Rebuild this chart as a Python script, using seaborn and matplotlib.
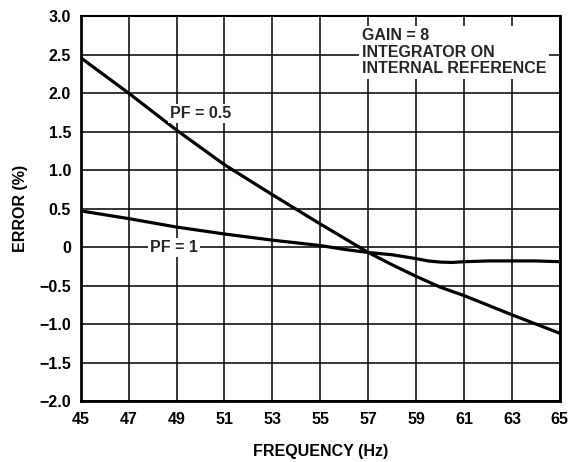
import matplotlib
matplotlib.use("Agg")
import matplotlib.pyplot as plt
import seaborn as sns
import pandas as pd

freq_05 = [45, 47, 49, 51, 53, 55, 57, 58, 59, 60, 61, 63, 65]
err_05 = [2.46, 2.0, 1.52, 1.07, 0.68, 0.3, -0.07, -0.23, -0.38, -0.52, -0.63, -0.88, -1.12]
freq_1 = [45, 47, 49, 51, 53, 55, 56, 57, 58, 59, 59.5, 60, 60.5, 61, 62, 63, 64, 65]
err_1 = [0.47, 0.37, 0.26, 0.17, 0.09, 0.02, -0.03, -0.07, -0.1, -0.15, -0.18, -0.195, -0.2, -0.19, -0.18, -0.18, -0.18, -0.19]

x_ticks = [45, 47, 49, 51, 53, 55, 57, 59, 61, 63, 65]
y_ticks = [-2.0, -1.5, -1.0, -0.5, 0, 0.5, 1.0, 1.5, 2.0, 2.5, 3.0]
y_labels = ["\u22122.0", "\u22121.5", "\u22121.0", "\u22120.5", "0", "0.5", "1.0", "1.5", "2.0", "2.5", "3.0"]

sns.set_theme(style="white")
plt.rcParams['font.family'] = ['Liberation Sans', 'DejaVu Sans']
plt.rcParams['font.weight'] = 'bold'

df05 = pd.DataFrame({"f": freq_05, "e": err_05})
df1 = pd.DataFrame({"f": freq_1, "e": err_1})

fs = 11.5

fig, ax = plt.subplots(figsize=(5.85, 4.62), dpi=100)
fig.subplots_adjust(left=0.138, right=0.957, top=0.965, bottom=0.132)

ax.set_xlim(45, 65)
ax.set_ylim(-2.0, 3.0)
ax.set_xticks(x_ticks)
ax.set_yticks(y_ticks)
ax.set_yticklabels(y_labels)
ax.grid(True, color="black", linewidth=1.1)
ax.set_axisbelow(True)

sns.lineplot(data=df05, x="f", y="e", ax=ax, color="black", linewidth=2.3, zorder=3)
sns.lineplot(data=df1, x="f", y="e", ax=ax, color="black", linewidth=2.3, zorder=3)

for s in ax.spines.values():
    s.set_color("black")
    s.set_linewidth(1.5)
ax.spines['left'].set_linewidth(2)
ax.spines['bottom'].set_linewidth(2)
ax.spines['right'].set_linewidth(2)

ax.tick_params(axis='both', length=0, labelsize=fs, colors="black")
ax.tick_params(axis='x', pad=8)
ax.tick_params(axis='y', pad=7)
for lab in ax.get_xticklabels() + ax.get_yticklabels():
    lab.set_fontweight('bold')

ax.set_xlabel("FREQUENCY (Hz)", fontsize=fs, fontweight='bold', labelpad=12, color="black")
ax.set_ylabel("ERROR (%)", fontsize=fs, fontweight='bold', labelpad=8, color="black")

bbox = dict(facecolor="white", edgecolor="none", pad=1.5)
ax.text(50.0, 1.73, "PF = 0.5", fontsize=fs, fontweight='bold', ha='center', va='center', bbox=bbox, zorder=4)
ax.text(48.9, 0.0, "PF = 1", fontsize=fs, fontweight='bold', ha='center', va='center', bbox=bbox, zorder=4)
ax.text(56.75, 2.84, "GAIN = 8\nINTEGRATOR ON\nINTERNAL REFERENCE", fontsize=fs, fontweight='bold',
        ha='left', va='top', linespacing=1.1, bbox=dict(facecolor="white", edgecolor="none", pad=2), zorder=4)

fig.savefig("out.png", dpi=100, facecolor="white")
